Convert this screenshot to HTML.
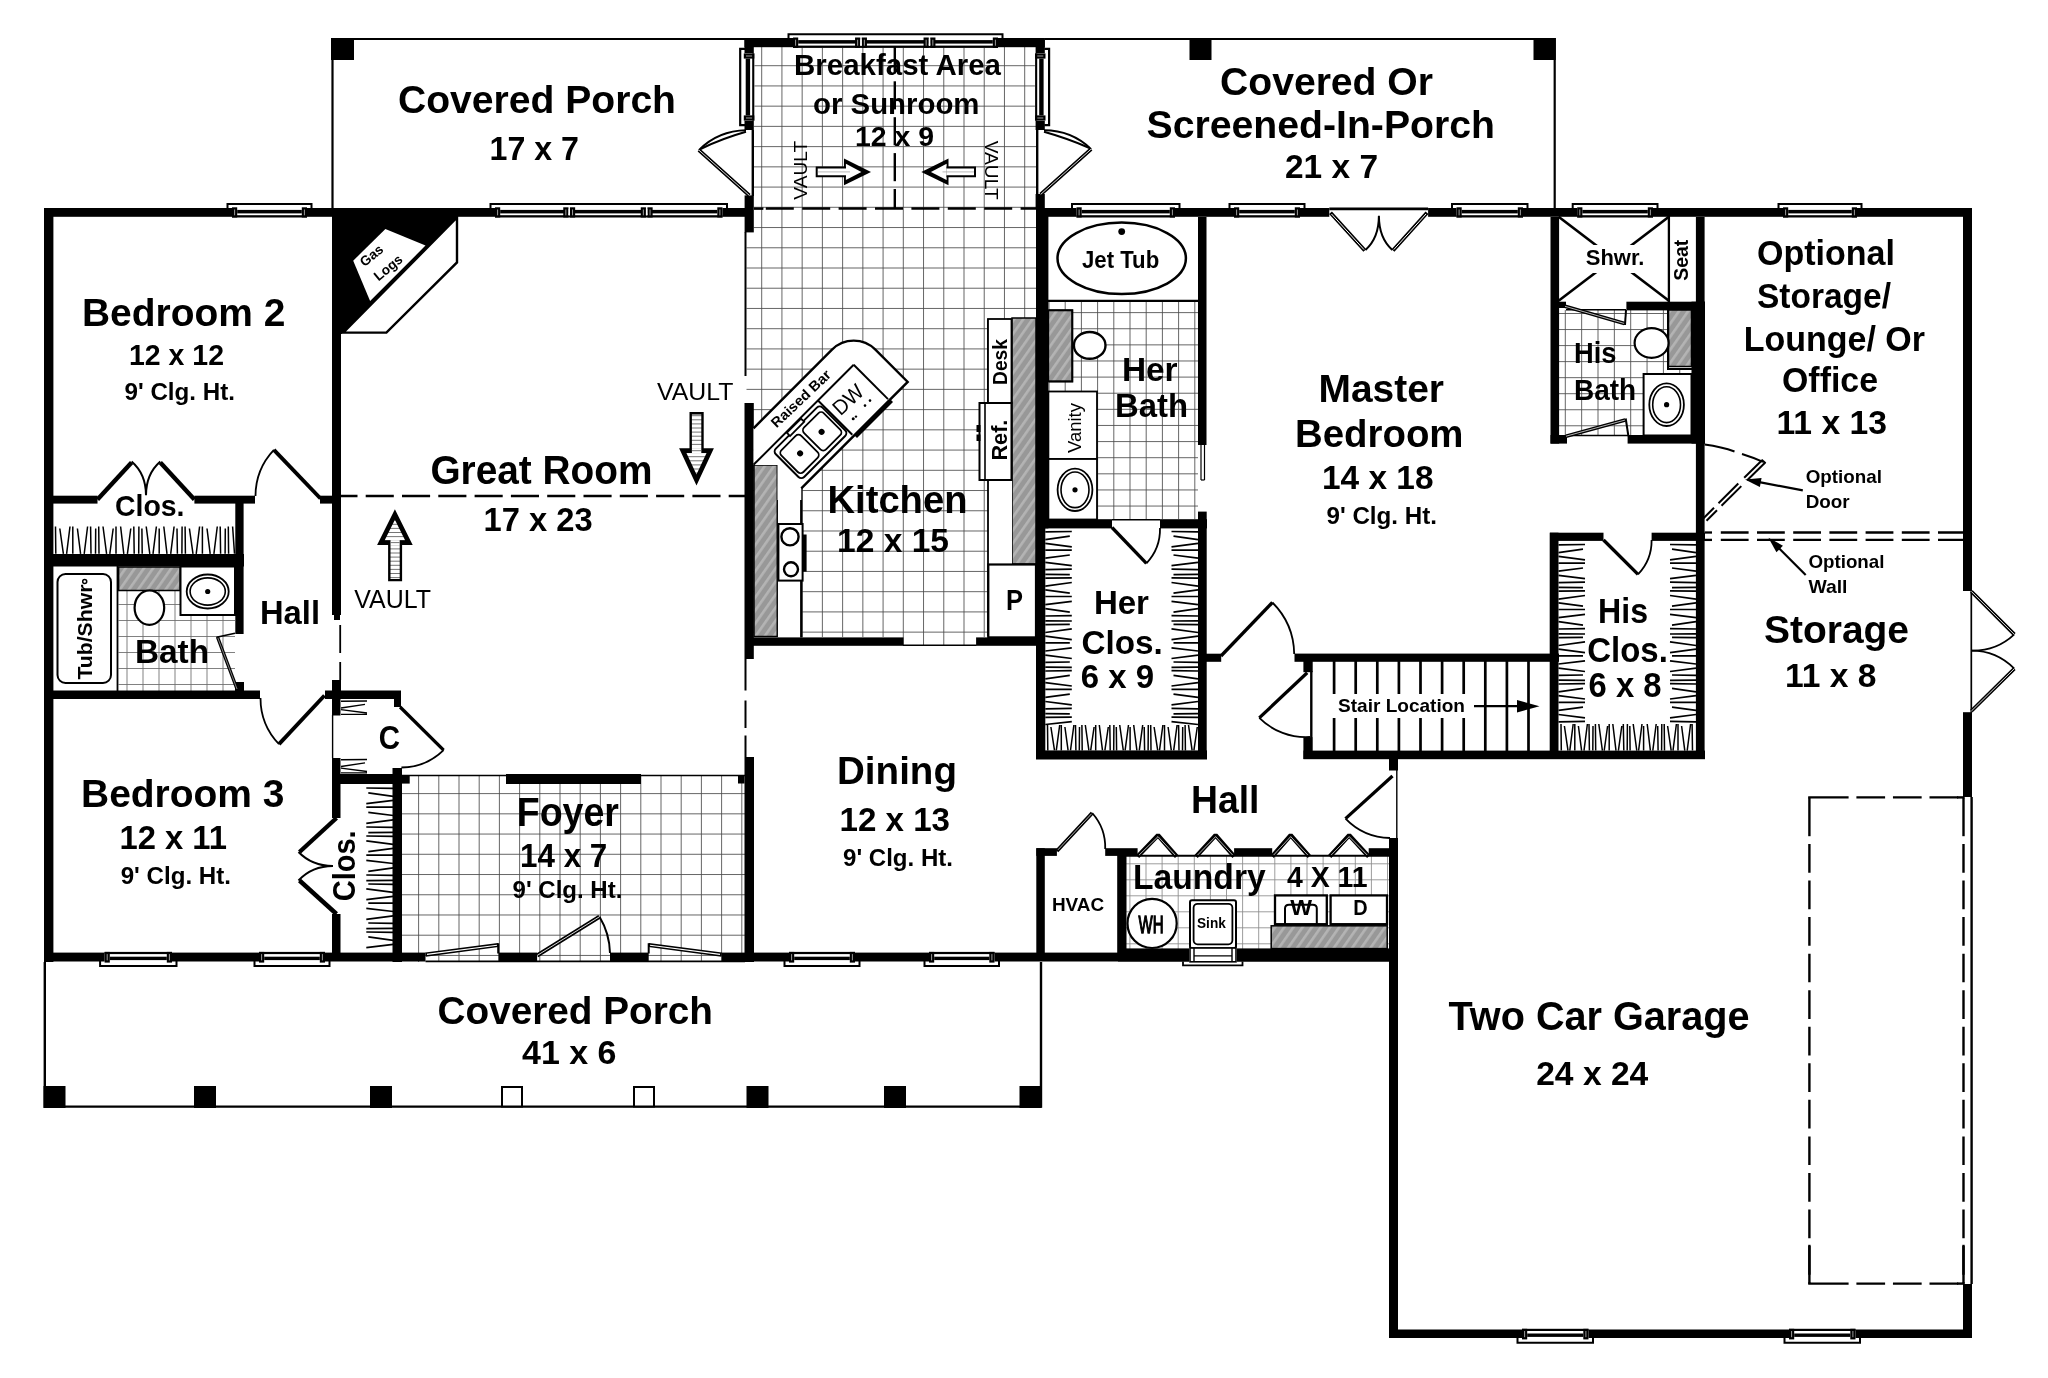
<!DOCTYPE html>
<html><head><meta charset="utf-8"><title>Floor Plan</title>
<style>
html,body{margin:0;padding:0;background:#fff;overflow:hidden;}
svg{display:block;will-change:transform;}
text{font-family:"Liberation Sans",sans-serif;fill:#000;}
</style></head>
<body>
<svg width="2048" height="1378" viewBox="0 0 2048 1378">
<defs>
<pattern id="hatch" width="7.5" height="7.5" patternUnits="userSpaceOnUse" patternTransform="rotate(35)">
<rect width="7.5" height="7.5" fill="#989898"/><rect width="2.6" height="7.5" fill="#b4b4b4"/>
</pattern>
</defs>
<rect width="2048" height="1378" fill="#fff"/>
<path d="M761.70 47.00V232.00M781.93 47.00V232.00M802.16 47.00V232.00M822.39 47.00V232.00M842.62 47.00V232.00M862.85 47.00V232.00M883.08 47.00V232.00M903.31 47.00V232.00M923.54 47.00V232.00M943.77 47.00V232.00M964.00 47.00V232.00M984.23 47.00V232.00M1004.46 47.00V232.00M1024.69 47.00V232.00M753.80 65.70H1036.00M753.80 85.93H1036.00M753.80 106.16H1036.00M753.80 126.39H1036.00M753.80 146.62H1036.00M753.80 166.85H1036.00M753.80 187.08H1036.00M753.80 207.31H1036.00M753.80 227.54H1036.00" fill="none" stroke="#4a4a4a" stroke-width="0.85"/>
<path d="M761.70 232.00V637.00M781.93 232.00V637.00M802.16 232.00V637.00M822.39 232.00V637.00M842.62 232.00V637.00M862.85 232.00V637.00M883.08 232.00V637.00M903.31 232.00V637.00M923.54 232.00V637.00M943.77 232.00V637.00M964.00 232.00V637.00M984.23 232.00V637.00M1004.46 232.00V637.00M1024.69 232.00V637.00M746.50 247.77H1036.00M746.50 268.00H1036.00M746.50 288.23H1036.00M746.50 308.46H1036.00M746.50 328.69H1036.00M746.50 348.92H1036.00M746.50 369.15H1036.00M746.50 389.38H1036.00M746.50 409.61H1036.00M746.50 429.84H1036.00M746.50 450.07H1036.00M746.50 470.30H1036.00M746.50 490.53H1036.00M746.50 510.76H1036.00M746.50 530.99H1036.00M746.50 551.22H1036.00M746.50 571.45H1036.00M746.50 591.68H1036.00M746.50 611.91H1036.00M746.50 632.14H1036.00" fill="none" stroke="#4a4a4a" stroke-width="0.85"/>
<path d="M903.31 637.00V646.00M923.54 637.00V646.00M943.77 637.00V646.00M964.00 637.00V646.00" fill="none" stroke="#4a4a4a" stroke-width="0.85"/>
<line x1="903.00" y1="645.30" x2="976.50" y2="645.30" stroke="#000" stroke-width="1.6" />
<path d="M418.60 775.00V962.00M438.80 775.00V962.00M459.00 775.00V962.00M479.20 775.00V962.00M499.40 775.00V962.00M519.60 775.00V962.00M539.80 775.00V962.00M560.00 775.00V962.00M580.20 775.00V962.00M600.40 775.00V962.00M620.60 775.00V962.00M640.80 775.00V962.00M661.00 775.00V962.00M681.20 775.00V962.00M701.40 775.00V962.00M721.60 775.00V962.00M741.80 775.00V962.00M402.00 793.60H745.00M402.00 813.83H745.00M402.00 834.06H745.00M402.00 854.29H745.00M402.00 874.52H745.00M402.00 894.75H745.00M402.00 914.98H745.00M402.00 935.21H745.00M402.00 955.44H745.00" fill="none" stroke="#4a4a4a" stroke-width="0.85"/>
<path d="M127.00 590.00V691.00M143.00 590.00V691.00M159.00 590.00V691.00M175.00 590.00V691.00M191.00 590.00V691.00M207.00 590.00V691.00M223.00 590.00V691.00M118.50 604.50H235.00M118.50 620.50H235.00M118.50 636.50H235.00M118.50 652.50H235.00M118.50 668.50H235.00M118.50 684.50H235.00" fill="none" stroke="#6a6a6a" stroke-width="0.85"/>
<path d="M1049.00 302.00V519.00M1065.20 302.00V519.00M1081.40 302.00V519.00M1097.60 302.00V519.00M1113.80 302.00V519.00M1130.00 302.00V519.00M1146.20 302.00V519.00M1162.40 302.00V519.00M1178.60 302.00V519.00M1194.80 302.00V519.00M1049.00 312.62H1198.00M1049.00 328.74H1198.00M1049.00 344.86H1198.00M1049.00 360.98H1198.00M1049.00 377.10H1198.00M1049.00 393.22H1198.00M1049.00 409.34H1198.00M1049.00 425.46H1198.00M1049.00 441.58H1198.00M1049.00 457.70H1198.00M1049.00 473.82H1198.00M1049.00 489.94H1198.00M1049.00 506.06H1198.00" fill="none" stroke="#4a4a4a" stroke-width="0.85"/>
<path d="M1565.30 310.00V435.50M1581.65 310.00V435.50M1598.00 310.00V435.50M1614.35 310.00V435.50M1630.70 310.00V435.50M1647.05 310.00V435.50M1663.40 310.00V435.50M1559.00 313.50H1668.50M1559.00 329.54H1668.50M1559.00 345.58H1668.50M1559.00 361.62H1668.50M1559.00 377.66H1668.50M1559.00 393.70H1668.50M1559.00 409.74H1668.50M1559.00 425.78H1668.50" fill="none" stroke="#4a4a4a" stroke-width="0.85"/>
<path d="M1679.75 369.00V374.00" fill="none" stroke="#4a4a4a" stroke-width="0.85"/>
<path d="M1129.90 856.00V949.00M1146.00 856.00V949.00M1162.10 856.00V949.00M1178.20 856.00V949.00M1194.30 856.00V949.00M1210.40 856.00V949.00M1226.50 856.00V949.00M1242.60 856.00V949.00M1258.70 856.00V949.00M1274.80 856.00V949.00M1290.90 856.00V949.00M1307.00 856.00V949.00M1323.10 856.00V949.00M1339.20 856.00V949.00M1355.30 856.00V949.00M1371.40 856.00V949.00M1387.50 856.00V949.00M1126.00 863.80H1389.00M1126.00 879.80H1389.00M1126.00 895.80H1389.00M1126.00 911.80H1389.00M1126.00 927.80H1389.00M1126.00 943.80H1389.00" fill="none" stroke="#8a8a8a" stroke-width="0.85"/>
<polyline points="332.50,208.00 332.50,39.00 745.00,39.00" fill="none" stroke="#000" stroke-width="2.2" />
<rect x="331.00" y="38.00" width="23.00" height="22.00" fill="#000" />
<polyline points="1045.00,39.00 1554.70,39.00 1554.70,208.00" fill="none" stroke="#000" stroke-width="2.2" />
<rect x="1189.50" y="38.00" width="22.00" height="22.00" fill="#000" />
<rect x="1533.50" y="38.00" width="22.30" height="22.00" fill="#000" />
<polyline points="44.80,962.00 44.80,1106.60 1041.00,1106.60 1041.00,962.00" fill="none" stroke="#000" stroke-width="2.4" />
<rect x="43.50" y="1086.00" width="22.00" height="22.00" fill="#000" />
<rect x="194.00" y="1086.00" width="22.00" height="22.00" fill="#000" />
<rect x="370.00" y="1086.00" width="22.00" height="22.00" fill="#000" />
<rect x="746.50" y="1086.00" width="22.00" height="22.00" fill="#000" />
<rect x="884.00" y="1086.00" width="22.00" height="22.00" fill="#000" />
<rect x="1019.50" y="1086.00" width="22.00" height="22.00" fill="#000" />
<rect x="502.00" y="1087.00" width="20.00" height="19.50" fill="#fff" stroke="#000" stroke-width="2"/>
<rect x="634.00" y="1087.00" width="20.00" height="19.50" fill="#fff" stroke="#000" stroke-width="2"/>
<rect x="44.00" y="208.00" width="9.40" height="754.00" fill="#000" />
<rect x="44.00" y="208.00" width="701.00" height="8.80" fill="#000" />
<rect x="332.00" y="208.00" width="9.00" height="407.00" fill="#000" />
<rect x="332.00" y="680.00" width="9.00" height="19.00" fill="#000" />
<rect x="53.00" y="495.70" width="44.50" height="7.90" fill="#000" />
<rect x="194.40" y="495.70" width="60.60" height="7.90" fill="#000" />
<rect x="320.00" y="495.70" width="12.00" height="7.90" fill="#000" />
<rect x="235.30" y="497.00" width="8.30" height="137.00" fill="#000" />
<rect x="53.00" y="554.00" width="191.00" height="12.50" fill="#000" />
<rect x="235.00" y="682.00" width="9.00" height="9.00" fill="#000" />
<rect x="44.50" y="690.50" width="215.50" height="8.50" fill="#000" />
<rect x="325.00" y="690.50" width="76.00" height="8.50" fill="#000" />
<rect x="394.00" y="699.00" width="7.00" height="8.00" fill="#000" />
<rect x="394.00" y="768.00" width="7.00" height="7.00" fill="#000" />
<rect x="332.00" y="774.00" width="70.00" height="10.00" fill="#000" />
<rect x="392.50" y="768.00" width="9.50" height="194.00" fill="#000" />
<rect x="402.00" y="775.00" width="7.70" height="8.60" fill="#000" />
<rect x="506.00" y="774.00" width="135.00" height="10.00" fill="#000" />
<rect x="738.00" y="775.00" width="6.50" height="8.50" fill="#000" />
<rect x="332.00" y="699.00" width="8.50" height="16.50" fill="#000" />
<rect x="332.00" y="758.00" width="8.50" height="17.00" fill="#000" />
<rect x="332.00" y="784.00" width="8.50" height="34.00" fill="#000" />
<rect x="332.00" y="914.00" width="8.50" height="40.00" fill="#000" />
<rect x="44.00" y="952.60" width="381.50" height="8.90" fill="#000" />
<rect x="498.40" y="952.60" width="38.70" height="8.90" fill="#000" />
<rect x="610.00" y="952.60" width="38.70" height="8.90" fill="#000" />
<rect x="721.70" y="952.60" width="676.30" height="8.90" fill="#000" />
<rect x="744.50" y="403.00" width="9.30" height="256.00" fill="#000" />
<rect x="744.60" y="195.40" width="9.20" height="37.00" fill="#000" />
<rect x="744.50" y="38.00" width="9.30" height="15.40" fill="#000" />
<rect x="744.50" y="120.60" width="9.30" height="9.40" fill="#000" />
<rect x="744.50" y="38.00" width="300.30" height="9.20" fill="#000" />
<rect x="1035.60" y="38.00" width="9.20" height="15.40" fill="#000" />
<rect x="1035.60" y="120.60" width="9.20" height="9.40" fill="#000" />
<rect x="1035.60" y="194.00" width="9.20" height="15.00" fill="#000" />
<rect x="1036.00" y="209.00" width="12.40" height="319.40" fill="#000" />
<rect x="1036.00" y="519.00" width="9.30" height="240.00" fill="#000" />
<rect x="744.50" y="757.00" width="9.50" height="205.00" fill="#000" />
<rect x="753.00" y="637.40" width="150.50" height="8.40" fill="#000" />
<rect x="976.10" y="637.40" width="60.90" height="8.40" fill="#000" />
<rect x="1036.00" y="208.00" width="936.00" height="8.80" fill="#000" />
<rect x="1198.00" y="217.00" width="8.50" height="228.00" fill="#000" />
<rect x="1198.00" y="511.60" width="8.70" height="247.40" fill="#000" />
<rect x="1036.00" y="519.20" width="76.00" height="9.20" fill="#000" />
<rect x="1160.00" y="519.20" width="47.00" height="9.20" fill="#000" />
<rect x="1036.00" y="750.40" width="171.00" height="9.10" fill="#000" />
<rect x="1206.00" y="653.70" width="15.20" height="8.10" fill="#000" />
<rect x="1294.50" y="653.60" width="264.50" height="8.20" fill="#000" />
<rect x="1303.40" y="654.00" width="9.30" height="18.20" fill="#000" />
<rect x="1303.40" y="737.50" width="9.30" height="21.50" fill="#000" />
<rect x="1303.50" y="750.60" width="401.50" height="8.60" fill="#000" />
<rect x="1549.70" y="532.70" width="8.80" height="226.30" fill="#000" />
<rect x="1550.00" y="532.70" width="53.50" height="8.20" fill="#000" />
<rect x="1651.60" y="532.70" width="53.40" height="8.20" fill="#000" />
<rect x="1695.90" y="217.00" width="8.70" height="542.00" fill="#000" />
<rect x="1550.50" y="217.00" width="8.60" height="226.60" fill="#000" />
<rect x="1550.50" y="435.00" width="16.50" height="8.60" fill="#000" />
<rect x="1627.60" y="435.00" width="77.40" height="8.60" fill="#000" />
<rect x="1691.50" y="301.70" width="13.50" height="141.90" fill="#000" />
<rect x="1626.40" y="301.70" width="78.60" height="8.70" fill="#000" />
<rect x="1559.00" y="301.70" width="7.00" height="6.30" fill="#000" />
<rect x="1963.00" y="208.00" width="9.00" height="383.00" fill="#000" />
<rect x="1963.00" y="712.20" width="9.00" height="84.80" fill="#000" />
<rect x="1963.00" y="1284.00" width="9.00" height="54.00" fill="#000" />
<rect x="1389.00" y="1329.50" width="583.00" height="8.50" fill="#000" />
<rect x="1389.00" y="759.00" width="9.00" height="11.50" fill="#000" />
<rect x="1389.00" y="838.00" width="9.00" height="500.00" fill="#000" />
<rect x="1105.20" y="848.20" width="32.40" height="7.70" fill="#000" />
<rect x="1234.10" y="848.20" width="38.10" height="7.70" fill="#000" />
<rect x="1368.70" y="848.20" width="20.30" height="7.70" fill="#000" />
<rect x="1036.30" y="848.20" width="8.50" height="105.80" fill="#000" />
<rect x="1036.30" y="848.20" width="20.60" height="7.70" fill="#000" />
<rect x="1117.20" y="855.00" width="9.30" height="99.00" fill="#000" />
<rect x="232.00" y="206.50" width="75.00" height="11.00" fill="#fff" />
<polyline points="227.50,208.50 227.50,204.00 311.50,204.00 311.50,208.50" fill="none" stroke="#000" stroke-width="2.0" />
<rect x="237.20" y="209.90" width="64.60" height="3.50" fill="#000" />
<rect x="232.00" y="215.20" width="75.00" height="2.30" fill="#000" />
<rect x="232.00" y="207.30" width="5.20" height="10.20" fill="#000" />
<line x1="234.60" y1="209.50" x2="234.60" y2="215.30" stroke="#ddd" stroke-width="0.7" />
<rect x="301.80" y="207.30" width="5.20" height="10.20" fill="#000" />
<line x1="304.40" y1="209.50" x2="304.40" y2="215.30" stroke="#ddd" stroke-width="0.7" />
<rect x="495.00" y="206.50" width="227.50" height="11.00" fill="#fff" />
<polyline points="490.50,208.50 490.50,204.00 727.00,204.00 727.00,208.50" fill="none" stroke="#000" stroke-width="2.0" />
<rect x="500.20" y="209.90" width="217.10" height="3.50" fill="#000" />
<rect x="495.00" y="215.20" width="227.50" height="2.30" fill="#000" />
<rect x="495.00" y="207.30" width="5.20" height="10.20" fill="#000" />
<line x1="497.60" y1="209.50" x2="497.60" y2="215.30" stroke="#ddd" stroke-width="0.7" />
<rect x="717.30" y="207.30" width="5.20" height="10.20" fill="#000" />
<line x1="719.90" y1="209.50" x2="719.90" y2="215.30" stroke="#ddd" stroke-width="0.7" />
<rect x="568.40" y="209.50" width="1.60" height="5.70" fill="#fff" />
<rect x="563.25" y="207.30" width="5.20" height="10.20" fill="#000" />
<line x1="565.85" y1="209.50" x2="565.85" y2="215.30" stroke="#ddd" stroke-width="0.7" />
<rect x="569.95" y="207.30" width="5.20" height="10.20" fill="#000" />
<line x1="572.55" y1="209.50" x2="572.55" y2="215.30" stroke="#ddd" stroke-width="0.7" />
<rect x="568.40" y="209.30" width="1.60" height="5.90" fill="#fff" />
<rect x="645.90" y="209.50" width="1.60" height="5.70" fill="#fff" />
<rect x="640.75" y="207.30" width="5.20" height="10.20" fill="#000" />
<line x1="643.35" y1="209.50" x2="643.35" y2="215.30" stroke="#ddd" stroke-width="0.7" />
<rect x="647.45" y="207.30" width="5.20" height="10.20" fill="#000" />
<line x1="650.05" y1="209.50" x2="650.05" y2="215.30" stroke="#ddd" stroke-width="0.7" />
<rect x="645.90" y="209.30" width="1.60" height="5.90" fill="#fff" />
<rect x="793.00" y="36.70" width="205.00" height="11.20" fill="#fff" />
<polyline points="788.50,38.70 788.50,34.20 1002.50,34.20 1002.50,38.70" fill="none" stroke="#000" stroke-width="2.0" />
<rect x="798.20" y="40.10" width="194.60" height="3.50" fill="#000" />
<rect x="793.00" y="45.60" width="205.00" height="2.30" fill="#000" />
<rect x="793.00" y="37.50" width="5.20" height="10.40" fill="#000" />
<line x1="795.60" y1="39.70" x2="795.60" y2="45.70" stroke="#ddd" stroke-width="0.7" />
<rect x="992.80" y="37.50" width="5.20" height="10.40" fill="#000" />
<line x1="995.40" y1="39.70" x2="995.40" y2="45.70" stroke="#ddd" stroke-width="0.7" />
<rect x="860.20" y="39.70" width="1.60" height="5.90" fill="#fff" />
<rect x="855.05" y="37.50" width="5.20" height="10.40" fill="#000" />
<line x1="857.65" y1="39.70" x2="857.65" y2="45.70" stroke="#ddd" stroke-width="0.7" />
<rect x="861.75" y="37.50" width="5.20" height="10.40" fill="#000" />
<line x1="864.35" y1="39.70" x2="864.35" y2="45.70" stroke="#ddd" stroke-width="0.7" />
<rect x="860.20" y="39.50" width="1.60" height="6.10" fill="#fff" />
<rect x="928.70" y="39.70" width="1.60" height="5.90" fill="#fff" />
<rect x="923.55" y="37.50" width="5.20" height="10.40" fill="#000" />
<line x1="926.15" y1="39.70" x2="926.15" y2="45.70" stroke="#ddd" stroke-width="0.7" />
<rect x="930.25" y="37.50" width="5.20" height="10.40" fill="#000" />
<line x1="932.85" y1="39.70" x2="932.85" y2="45.70" stroke="#ddd" stroke-width="0.7" />
<rect x="928.70" y="39.50" width="1.60" height="6.10" fill="#fff" />
<rect x="743.00" y="53.40" width="11.50" height="67.20" fill="#fff" />
<polyline points="745.00,48.90 740.20,48.90 740.20,125.10 745.00,125.10" fill="none" stroke="#000" stroke-width="2.2" />
<rect x="745.70" y="58.60" width="4.40" height="56.80" fill="#000" />
<rect x="752.20" y="53.40" width="2.10" height="67.20" fill="#000" />
<rect x="743.80" y="53.40" width="10.50" height="5.20" fill="#000" />
<line x1="746.00" y1="56.00" x2="752.10" y2="56.00" stroke="#ddd" stroke-width="0.7" />
<rect x="743.80" y="115.40" width="10.50" height="5.20" fill="#000" />
<line x1="746.00" y1="118.00" x2="752.10" y2="118.00" stroke="#ddd" stroke-width="0.7" />
<rect x="1034.90" y="53.40" width="11.40" height="67.20" fill="#fff" />
<polyline points="1044.30,48.90 1049.10,48.90 1049.10,125.10 1044.30,125.10" fill="none" stroke="#000" stroke-width="2.2" />
<rect x="1039.20" y="58.60" width="4.40" height="56.80" fill="#000" />
<rect x="1035.10" y="53.40" width="2.10" height="67.20" fill="#000" />
<rect x="1035.10" y="53.40" width="10.40" height="5.20" fill="#000" />
<line x1="1037.30" y1="56.00" x2="1043.30" y2="56.00" stroke="#ddd" stroke-width="0.7" />
<rect x="1035.10" y="115.40" width="10.40" height="5.20" fill="#000" />
<line x1="1037.30" y1="118.00" x2="1043.30" y2="118.00" stroke="#ddd" stroke-width="0.7" />
<rect x="1076.50" y="206.50" width="98.50" height="11.00" fill="#fff" />
<polyline points="1072.00,208.50 1072.00,204.00 1179.50,204.00 1179.50,208.50" fill="none" stroke="#000" stroke-width="2.0" />
<rect x="1081.70" y="209.90" width="88.10" height="3.50" fill="#000" />
<rect x="1076.50" y="215.20" width="98.50" height="2.30" fill="#000" />
<rect x="1076.50" y="207.30" width="5.20" height="10.20" fill="#000" />
<line x1="1079.10" y1="209.50" x2="1079.10" y2="215.30" stroke="#ddd" stroke-width="0.7" />
<rect x="1169.80" y="207.30" width="5.20" height="10.20" fill="#000" />
<line x1="1172.40" y1="209.50" x2="1172.40" y2="215.30" stroke="#ddd" stroke-width="0.7" />
<rect x="1234.00" y="206.50" width="66.00" height="11.00" fill="#fff" />
<polyline points="1229.50,208.50 1229.50,204.00 1304.50,204.00 1304.50,208.50" fill="none" stroke="#000" stroke-width="2.0" />
<rect x="1239.20" y="209.90" width="55.60" height="3.50" fill="#000" />
<rect x="1234.00" y="215.20" width="66.00" height="2.30" fill="#000" />
<rect x="1234.00" y="207.30" width="5.20" height="10.20" fill="#000" />
<line x1="1236.60" y1="209.50" x2="1236.60" y2="215.30" stroke="#ddd" stroke-width="0.7" />
<rect x="1294.80" y="207.30" width="5.20" height="10.20" fill="#000" />
<line x1="1297.40" y1="209.50" x2="1297.40" y2="215.30" stroke="#ddd" stroke-width="0.7" />
<rect x="1456.50" y="206.50" width="66.50" height="11.00" fill="#fff" />
<polyline points="1452.00,208.50 1452.00,204.00 1527.50,204.00 1527.50,208.50" fill="none" stroke="#000" stroke-width="2.0" />
<rect x="1461.70" y="209.90" width="56.10" height="3.50" fill="#000" />
<rect x="1456.50" y="215.20" width="66.50" height="2.30" fill="#000" />
<rect x="1456.50" y="207.30" width="5.20" height="10.20" fill="#000" />
<line x1="1459.10" y1="209.50" x2="1459.10" y2="215.30" stroke="#ddd" stroke-width="0.7" />
<rect x="1517.80" y="207.30" width="5.20" height="10.20" fill="#000" />
<line x1="1520.40" y1="209.50" x2="1520.40" y2="215.30" stroke="#ddd" stroke-width="0.7" />
<rect x="1577.20" y="206.50" width="75.80" height="11.00" fill="#fff" />
<polyline points="1572.70,208.50 1572.70,204.00 1657.50,204.00 1657.50,208.50" fill="none" stroke="#000" stroke-width="2.0" />
<rect x="1582.40" y="209.90" width="65.40" height="3.50" fill="#000" />
<rect x="1577.20" y="215.20" width="75.80" height="2.30" fill="#000" />
<rect x="1577.20" y="207.30" width="5.20" height="10.20" fill="#000" />
<line x1="1579.80" y1="209.50" x2="1579.80" y2="215.30" stroke="#ddd" stroke-width="0.7" />
<rect x="1647.80" y="207.30" width="5.20" height="10.20" fill="#000" />
<line x1="1650.40" y1="209.50" x2="1650.40" y2="215.30" stroke="#ddd" stroke-width="0.7" />
<rect x="1783.00" y="206.50" width="74.00" height="11.00" fill="#fff" />
<polyline points="1778.50,208.50 1778.50,204.00 1861.50,204.00 1861.50,208.50" fill="none" stroke="#000" stroke-width="2.0" />
<rect x="1788.20" y="209.90" width="63.60" height="3.50" fill="#000" />
<rect x="1783.00" y="215.20" width="74.00" height="2.30" fill="#000" />
<rect x="1783.00" y="207.30" width="5.20" height="10.20" fill="#000" />
<line x1="1785.60" y1="209.50" x2="1785.60" y2="215.30" stroke="#ddd" stroke-width="0.7" />
<rect x="1851.80" y="207.30" width="5.20" height="10.20" fill="#000" />
<line x1="1854.40" y1="209.50" x2="1854.40" y2="215.30" stroke="#ddd" stroke-width="0.7" />
<rect x="104.60" y="951.90" width="67.40" height="10.80" fill="#fff" />
<polyline points="100.10,960.70 100.10,965.90 176.50,965.90 176.50,960.70" fill="none" stroke="#000" stroke-width="2.0" />
<rect x="109.80" y="956.70" width="57.00" height="3.40" fill="#000" />
<rect x="104.60" y="951.90" width="67.40" height="2.20" fill="#000" />
<rect x="104.60" y="951.90" width="5.20" height="10.70" fill="#000" />
<line x1="107.20" y1="954.10" x2="107.20" y2="960.40" stroke="#ddd" stroke-width="0.7" />
<rect x="166.80" y="951.90" width="5.20" height="10.70" fill="#000" />
<line x1="169.40" y1="954.10" x2="169.40" y2="960.40" stroke="#ddd" stroke-width="0.7" />
<rect x="259.00" y="951.90" width="66.00" height="10.80" fill="#fff" />
<polyline points="254.50,960.70 254.50,965.90 329.50,965.90 329.50,960.70" fill="none" stroke="#000" stroke-width="2.0" />
<rect x="264.20" y="956.70" width="55.60" height="3.40" fill="#000" />
<rect x="259.00" y="951.90" width="66.00" height="2.20" fill="#000" />
<rect x="259.00" y="951.90" width="5.20" height="10.70" fill="#000" />
<line x1="261.60" y1="954.10" x2="261.60" y2="960.40" stroke="#ddd" stroke-width="0.7" />
<rect x="319.80" y="951.90" width="5.20" height="10.70" fill="#000" />
<line x1="322.40" y1="954.10" x2="322.40" y2="960.40" stroke="#ddd" stroke-width="0.7" />
<rect x="789.00" y="951.90" width="66.00" height="10.80" fill="#fff" />
<polyline points="784.50,960.70 784.50,965.90 859.50,965.90 859.50,960.70" fill="none" stroke="#000" stroke-width="2.0" />
<rect x="794.20" y="956.70" width="55.60" height="3.40" fill="#000" />
<rect x="789.00" y="951.90" width="66.00" height="2.20" fill="#000" />
<rect x="789.00" y="951.90" width="5.20" height="10.70" fill="#000" />
<line x1="791.60" y1="954.10" x2="791.60" y2="960.40" stroke="#ddd" stroke-width="0.7" />
<rect x="849.80" y="951.90" width="5.20" height="10.70" fill="#000" />
<line x1="852.40" y1="954.10" x2="852.40" y2="960.40" stroke="#ddd" stroke-width="0.7" />
<rect x="929.00" y="951.90" width="65.50" height="10.80" fill="#fff" />
<polyline points="924.50,960.70 924.50,965.90 999.00,965.90 999.00,960.70" fill="none" stroke="#000" stroke-width="2.0" />
<rect x="934.20" y="956.70" width="55.10" height="3.40" fill="#000" />
<rect x="929.00" y="951.90" width="65.50" height="2.20" fill="#000" />
<rect x="929.00" y="951.90" width="5.20" height="10.70" fill="#000" />
<line x1="931.60" y1="954.10" x2="931.60" y2="960.40" stroke="#ddd" stroke-width="0.7" />
<rect x="989.30" y="951.90" width="5.20" height="10.70" fill="#000" />
<line x1="991.90" y1="954.10" x2="991.90" y2="960.40" stroke="#ddd" stroke-width="0.7" />
<rect x="1522.00" y="1328.80" width="66.50" height="10.70" fill="#fff" />
<polyline points="1517.50,1337.50 1517.50,1342.70 1593.00,1342.70 1593.00,1337.50" fill="none" stroke="#000" stroke-width="2.0" />
<rect x="1527.20" y="1333.50" width="56.10" height="3.40" fill="#000" />
<rect x="1522.00" y="1328.80" width="66.50" height="2.20" fill="#000" />
<rect x="1522.00" y="1328.80" width="5.20" height="10.60" fill="#000" />
<line x1="1524.60" y1="1331.00" x2="1524.60" y2="1337.20" stroke="#ddd" stroke-width="0.7" />
<rect x="1583.30" y="1328.80" width="5.20" height="10.60" fill="#000" />
<line x1="1585.90" y1="1331.00" x2="1585.90" y2="1337.20" stroke="#ddd" stroke-width="0.7" />
<rect x="1789.00" y="1328.80" width="66.50" height="10.70" fill="#fff" />
<polyline points="1784.50,1337.50 1784.50,1342.70 1860.00,1342.70 1860.00,1337.50" fill="none" stroke="#000" stroke-width="2.0" />
<rect x="1794.20" y="1333.50" width="56.10" height="3.40" fill="#000" />
<rect x="1789.00" y="1328.80" width="66.50" height="2.20" fill="#000" />
<rect x="1789.00" y="1328.80" width="5.20" height="10.60" fill="#000" />
<line x1="1791.60" y1="1331.00" x2="1791.60" y2="1337.20" stroke="#ddd" stroke-width="0.7" />
<rect x="1850.30" y="1328.80" width="5.20" height="10.60" fill="#000" />
<line x1="1852.90" y1="1331.00" x2="1852.90" y2="1337.20" stroke="#ddd" stroke-width="0.7" />
<polygon points="332.20,216.00 457.50,216.00 457.50,217.50 341.50,334.00 332.20,334.00" fill="#000" stroke="none" stroke-width="0" />
<polygon points="457.00,217.50 457.00,262.40 386.40,332.60 343.20,332.60" fill="#fff" stroke="#000" stroke-width="2.4" />
<polygon points="385.40,228.90 425.50,245.60 370.10,301.00 353.20,260.70" fill="#fff" stroke="none" stroke-width="0" />
<text font-size="13.6" font-weight="bold" transform="translate(364.6 267.2) rotate(-39.5)">Gas</text>
<text font-size="13.6" font-weight="bold" transform="translate(378.6 281.6) rotate(-39.5)">Logs</text>
<line x1="341.00" y1="496.00" x2="745.00" y2="496.00" stroke="#000" stroke-width="2.3" stroke-dasharray="28.1 8.2" stroke-dashoffset="11.6"/>
<line x1="340.20" y1="625.00" x2="340.20" y2="653.00" stroke="#000" stroke-width="1.8" />
<line x1="340.20" y1="662.00" x2="340.20" y2="680.00" stroke="#000" stroke-width="1.8" />
<rect x="334.00" y="615.00" width="6.00" height="5.00" fill="#000" />
<line x1="745.50" y1="232.00" x2="745.50" y2="376.00" stroke="#000" stroke-width="2.0" />
<line x1="745.50" y1="659.00" x2="745.50" y2="690.50" stroke="#000" stroke-width="2.0" />
<line x1="745.50" y1="700.50" x2="745.50" y2="728.00" stroke="#000" stroke-width="2.0" />
<line x1="745.50" y1="735.50" x2="745.50" y2="757.00" stroke="#000" stroke-width="2.0" />
<path d="M389.3 577.6H400.9M389.3 573.5H400.9M389.3 569.4H400.9M389.3 565.3H400.9M389.3 561.2H400.9M389.3 557.1H400.9M389.3 553.0H400.9M389.3 548.9H400.9M389.3 544.8H400.9M381.9 540.7H407.9M383.9 536.6H405.9M385.9 532.5H403.9M388.0 528.4H401.8M390.0 524.3H399.8M392.1 520.2H397.7" stroke="#666" stroke-width="0.9" fill="none"/>
<polyline points="389.30,542.65 389.30,580.10 400.90,580.10 400.90,542.65" fill="none" stroke="#000" stroke-width="2.4" />
<polygon points="380.89,542.65 408.91,542.65 394.90,514.48" fill="none" stroke="#000" stroke-width="4.7" stroke-linejoin="miter" stroke-miterlimit="10"/>
<line x1="390.50" y1="542.65" x2="399.70" y2="542.65" stroke="#fff" stroke-width="5.1000000000000005" />
<path d="M390.5 542.6H399.7" stroke="#666" stroke-width="0.9" fill="none"/>
<path d="M690.7 415.7H702.5M690.7 419.8H702.5M690.7 423.9H702.5M690.7 428.0H702.5M690.7 432.1H702.5M690.7 436.2H702.5M690.7 440.3H702.5M690.7 444.4H702.5M690.7 448.5H702.5M683.7 452.6H709.3M685.6 456.7H707.4M687.5 460.8H705.5M689.4 464.9H703.6M691.3 469.0H701.7M693.3 473.1H699.7" stroke="#666" stroke-width="0.9" fill="none"/>
<polyline points="690.70,450.65 690.70,413.20 702.50,413.20 702.50,450.65" fill="none" stroke="#000" stroke-width="2.4" />
<polygon points="682.79,450.65 710.21,450.65 696.50,480.04" fill="none" stroke="#000" stroke-width="4.7" stroke-linejoin="miter" stroke-miterlimit="10"/>
<line x1="691.90" y1="450.65" x2="701.30" y2="450.65" stroke="#fff" stroke-width="5.1000000000000005" />
<path d="M691.9 450.7H701.3" stroke="#666" stroke-width="0.9" fill="none"/>
<path d="M55.5 526.5L55.8 553.8M59.8 528.5L63.4 553.8M70.0 526.5L66.6 553.8M72.8 526.5L72.8 553.8M77.4 528.5L80.6 553.8M87.6 526.5L84.2 553.8M90.6 526.5L91.0 553.8M95.7 528.5L95.5 553.8M98.7 526.5L99.0 553.8M103.0 526.5L106.6 553.8M113.2 528.5L109.8 553.8M116.0 526.5L116.0 553.8M120.6 526.5L123.8 553.8M130.8 528.5L127.4 553.8M133.8 526.5L134.2 553.8M138.9 526.5L138.7 553.8M141.9 528.5L142.2 553.8M146.2 526.5L149.8 553.8M156.4 526.5L153.0 553.8M159.2 528.5L159.2 553.8M163.8 526.5L167.0 553.8M174.1 526.5L170.7 553.8M177.0 528.5L177.4 553.8M182.1 526.5L181.9 553.8M185.1 526.5L185.4 553.8M189.4 528.5L193.0 553.8M199.6 526.5L196.2 553.8M202.4 526.5L202.4 553.8M207.0 528.5L210.2 553.8M217.3 526.5L213.9 553.8M220.2 526.5L220.6 553.8M225.3 528.5L225.1 553.8M228.3 526.5L228.6 553.8M232.6 526.5L234.5 553.8" fill="none" stroke="#000" stroke-width="1.5"/>
<polyline points="97.50,499.50 131.60,462.60" fill="none" stroke="#000" stroke-width="4.4" />
<polyline points="194.40,499.50 160.30,462.60" fill="none" stroke="#000" stroke-width="4.4" />
<path d="M131.6 461.5 Q146 474 146 495.3 Q146 474 160.3 461.5" fill="none" stroke="#000" stroke-width="2.0" />
<path d="M273.90 449.80A67.40 67.40 0 0 0 255.50 496.00" fill="none" stroke="#000" stroke-width="1.8" />
<line x1="320.50" y1="498.50" x2="273.90" y2="449.80" stroke="#000" stroke-width="3.9" stroke-linecap="butt"/>
<path d="M279.00 744.20A66.65 66.65 0 0 1 260.50 698.00" fill="none" stroke="#000" stroke-width="1.8" />
<line x1="324.50" y1="695.50" x2="279.00" y2="744.20" stroke="#000" stroke-width="3.9" stroke-linecap="butt"/>
<line x1="117.50" y1="566.00" x2="117.50" y2="691.00" stroke="#000" stroke-width="1.8" />
<rect x="57.5" y="574" width="53.5" height="109" rx="8" ry="8" fill="#fff" stroke="#000" stroke-width="2"/>
<rect x="118.60" y="567.00" width="61.60" height="23.50" fill="url(#hatch)" stroke="#000" stroke-width="1.5"/>
<rect x="180.50" y="566.50" width="54.50" height="48.50" fill="#fff" stroke="#000" stroke-width="2"/>
<ellipse cx="207.7" cy="591.5" rx="21" ry="17" fill="#fff" stroke="#000" stroke-width="1.8"/>
<ellipse cx="207.7" cy="591.5" rx="17.6" ry="13.6" fill="#fff" stroke="#000" stroke-width="1.6"/>
<circle cx="207.7" cy="591.5" r="2.6" fill="#000"/>
<ellipse cx="149.4" cy="607.7" rx="14.8" ry="17.2" fill="#fff" stroke="#000" stroke-width="2.2"/>
<line x1="217.50" y1="637.00" x2="237.00" y2="689.00" stroke="#000" stroke-width="3.4" />
<line x1="217.50" y1="637.00" x2="237.00" y2="689.00" stroke="#fff" stroke-width="0.5" />
<line x1="216.50" y1="637.30" x2="235.00" y2="633.20" stroke="#000" stroke-width="1.6" />
<line x1="332.60" y1="715.00" x2="332.60" y2="758.00" stroke="#000" stroke-width="1.4" />
<path d="M341.0 701.3L367.0 701.0M341.0 708.0L365.0 704.4M341.0 709.6L367.0 713.0M341.0 714.4L367.0 714.4" fill="none" stroke="#000" stroke-width="1.4"/>
<path d="M341.0 759.8L367.0 759.5M341.0 766.5L365.0 762.9M341.0 768.1L367.0 771.5M341.0 772.9L367.0 772.9" fill="none" stroke="#000" stroke-width="1.4"/>
<path d="M443.60 750.10A61.24 61.24 0 0 1 401.40 767.50" fill="none" stroke="#000" stroke-width="1.8" />
<line x1="400.10" y1="707.00" x2="443.60" y2="750.10" stroke="#000" stroke-width="3.3" stroke-linecap="butt"/>
<path d="M366.3 788.0L393.2 788.3M368.3 792.8L393.2 796.4M366.3 803.7L393.2 800.3M366.3 807.2L393.2 807.2M368.3 812.3L393.2 815.5M366.3 823.3L393.2 819.9M366.3 827.0L393.2 827.4M368.3 832.6L393.2 832.4M366.3 836.0L393.2 836.3M366.3 840.8L393.2 844.4M368.3 851.7L393.2 848.3M366.3 855.2L393.2 855.2M366.3 860.3L393.2 863.5M368.3 871.3L393.2 867.9M366.3 875.0L393.2 875.4M366.3 880.6L393.2 880.4M368.3 884.0L393.2 884.3M366.3 888.8L393.2 892.4M366.3 899.7L393.2 896.3M368.3 903.2L393.2 903.2M366.3 908.3L393.2 911.5M366.3 919.3L393.2 915.9M368.3 923.0L393.2 923.4M366.3 928.6L393.2 928.4M366.3 932.0L393.2 932.3M368.3 936.8L393.2 940.4M366.3 947.7L393.2 944.3" fill="none" stroke="#000" stroke-width="1.7"/>
<polyline points="336.50,818.00 299.50,852.00" fill="none" stroke="#000" stroke-width="4.4" />
<polyline points="336.50,914.00 299.50,880.50" fill="none" stroke="#000" stroke-width="4.4" />
<path d="M298.5 852 Q312 866 333 866 Q312 866 298.5 880.5" fill="none" stroke="#000" stroke-width="2.0" />
<line x1="402.00" y1="775.50" x2="745.00" y2="775.50" stroke="#000" stroke-width="1.6" />
<line x1="425.50" y1="961.30" x2="745.00" y2="961.30" stroke="#000" stroke-width="1.8" />
<line x1="425.50" y1="954.60" x2="498.20" y2="945.00" stroke="#000" stroke-width="4.2" />
<line x1="427.00" y1="954.40" x2="497.00" y2="945.20" stroke="#fff" stroke-width="1.1" />
<line x1="498.20" y1="943.20" x2="498.20" y2="953.50" stroke="#000" stroke-width="2.0" />
<path d="M599.50 916.70A73.48 73.48 0 0 1 610.00 953.00" fill="none" stroke="#000" stroke-width="2.0" />
<line x1="537.10" y1="955.50" x2="599.50" y2="916.70" stroke="#000" stroke-width="4.2" stroke-linecap="butt"/>
<line x1="537.10" y1="955.50" x2="599.50" y2="916.70" stroke="#fff" stroke-width="0.85" />
<line x1="648.70" y1="945.00" x2="721.70" y2="954.60" stroke="#000" stroke-width="4.2" />
<line x1="650.00" y1="945.20" x2="720.00" y2="954.40" stroke="#fff" stroke-width="1.1" />
<line x1="648.70" y1="943.20" x2="648.70" y2="953.50" stroke="#000" stroke-width="2.0" />
<line x1="754.00" y1="208.60" x2="763.40" y2="208.60" stroke="#000" stroke-width="2.5" />
<line x1="765.80" y1="208.60" x2="1036.00" y2="208.60" stroke="#000" stroke-width="2.5" stroke-dasharray="28 8.4"/>
<line x1="894.80" y1="189.00" x2="894.80" y2="208.70" stroke="#000" stroke-width="2.4" />
<line x1="894.80" y1="153.10" x2="894.80" y2="181.20" stroke="#000" stroke-width="2.4" />
<line x1="894.80" y1="117.20" x2="894.80" y2="145.30" stroke="#000" stroke-width="2.4" />
<line x1="894.80" y1="81.30" x2="894.80" y2="109.40" stroke="#000" stroke-width="2.4" />
<line x1="894.80" y1="47.00" x2="894.80" y2="73.50" stroke="#000" stroke-width="2.4" />
<path d="M698.90 150.10A67.77 67.77 0 0 1 746.00 130.30" fill="none" stroke="#000" stroke-width="2.0" />
<line x1="749.30" y1="195.40" x2="698.90" y2="150.10" stroke="#000" stroke-width="3.8" stroke-linecap="butt"/>
<line x1="749.30" y1="195.40" x2="698.90" y2="150.10" stroke="#fff" stroke-width="0.85" />
<path d="M700.5 149 Q722 138.6 746 131.8" fill="none" stroke="#000" stroke-width="2.0" />
<path d="M1091.10 149.10A67.77 67.77 0 0 0 1044.00 130.30" fill="none" stroke="#000" stroke-width="2.0" />
<line x1="1040.70" y1="194.40" x2="1091.10" y2="149.10" stroke="#000" stroke-width="3.8" stroke-linecap="butt"/>
<line x1="1040.70" y1="194.40" x2="1091.10" y2="149.10" stroke="#fff" stroke-width="0.85" />
<path d="M1089.5 148 Q1068 138.6 1044 131.8" fill="none" stroke="#000" stroke-width="2.0" />
<line x1="752.80" y1="130.00" x2="752.80" y2="196.00" stroke="#000" stroke-width="2.4" />
<line x1="1037.20" y1="130.00" x2="1037.20" y2="194.00" stroke="#000" stroke-width="2.4" />
<polygon points="844.00,158.45 844.00,185.35 871.00,171.90" fill="#000" stroke="none" stroke-width="0" />
<polygon points="845.90,163.85 845.90,179.95 861.40,171.90" fill="#fff" stroke="none" stroke-width="0" />
<polyline points="846.00,167.60 816.70,167.60 816.70,176.20 846.00,176.20" fill="#fff" stroke="#000" stroke-width="2.0" />
<line x1="817.70" y1="171.90" x2="850.00" y2="171.90" stroke="#999" stroke-width="0.7" />
<polygon points="948.50,158.45 948.50,185.35 921.30,171.90" fill="#000" stroke="none" stroke-width="0" />
<polygon points="946.60,163.85 946.60,179.95 930.90,171.90" fill="#fff" stroke="none" stroke-width="0" />
<polyline points="946.50,167.60 975.00,167.60 975.00,176.20 946.50,176.20" fill="#fff" stroke="#000" stroke-width="2.0" />
<line x1="974.00" y1="171.90" x2="942.50" y2="171.90" stroke="#999" stroke-width="0.7" />
<text x="806.70" y="199.70" font-size="19" font-weight="normal" textLength="59.0" lengthAdjust="spacingAndGlyphs" transform="rotate(-90 806.70 199.70)" >VAULT</text>
<text x="985.00" y="140.70" font-size="19" font-weight="normal" textLength="59.0" lengthAdjust="spacingAndGlyphs" transform="rotate(90 985.00 140.70)" >VAULT</text>
<rect x="754.00" y="465.00" width="23.50" height="171.50" fill="url(#hatch)" stroke="#000" stroke-width="1.5"/>
<polygon points="777.50,484.00 801.30,486.50 801.30,637.00 777.50,637.00" fill="#fff" stroke="none" stroke-width="0" />
<line x1="777.30" y1="465.00" x2="777.30" y2="637.00" stroke="#000" stroke-width="1.2" />
<line x1="801.30" y1="487.30" x2="801.30" y2="637.50" stroke="#000" stroke-width="2.4" />
<path d="M753.5 428.3 L832 349.6 A30.7 30.7 0 0 1 875.4 349.6 L907.7 381.9 L801.3 488.3 L801.3 500 L777.5 500 L777.5 465 L753.5 465 Z" fill="#fff" stroke="none" stroke-width="0" />
<path d="M753.5 428.3 L832 349.6 A30.7 30.7 0 0 1 875.4 349.6 L907.7 381.9 L801.3 488.3" fill="none" stroke="#000" stroke-width="2.4" />
<line x1="753.50" y1="464.80" x2="853.70" y2="364.80" stroke="#000" stroke-width="2.0" />
<polyline points="853.70,364.80 888.00,399.10" fill="none" stroke="#000" stroke-width="2.0" />
<polyline points="818.00,400.50 852.30,434.80" fill="none" stroke="#000" stroke-width="2.0" />
<line x1="891.50" y1="400.50" x2="855.50" y2="436.50" stroke="#000" stroke-width="4.2" />
<text x="0" y="0" font-size="21" transform="translate(840.5 416.5) rotate(-43)" textLength="34" lengthAdjust="spacingAndGlyphs">DW</text>
<circle cx="853.2" cy="418.8" r="1.5"/><circle cx="856" cy="416.6" r="1.2"/><circle cx="865" cy="405.6" r="1.3"/><circle cx="870" cy="400.6" r="1.3"/>
<text x="0" y="0" font-size="14.2" font-weight="bold" transform="translate(776.6 428.6) rotate(-43.6)" textLength="76.5" lengthAdjust="spacingAndGlyphs">Raised Bar</text>
<g transform="translate(810.5 442.3) rotate(-45)"><rect x="-33" y="-20" width="66" height="40" rx="4" fill="#fff" stroke="#000" stroke-width="2"/><rect x="-30" y="-15" width="28" height="31" rx="4" fill="#fff" stroke="#000" stroke-width="1.8"/><rect x="2" y="-15" width="28" height="31" rx="4" fill="#fff" stroke="#000" stroke-width="1.8"/><circle cx="-15.2" cy="0.5" r="3"/><circle cx="15.2" cy="0.5" r="3"/><rect x="-10" y="-23.5" width="20" height="4.6" fill="#fff" stroke="#000" stroke-width="1.8"/></g>
<rect x="778.40" y="524.00" width="24.20" height="56.60" fill="#fff" stroke="#000" stroke-width="2.0"/>
<circle cx="790" cy="536.8" r="8.6" fill="#fff" stroke="#000" stroke-width="2.4"/>
<circle cx="791" cy="569.3" r="7" fill="#fff" stroke="#000" stroke-width="2.4"/>
<rect x="802.80" y="534.50" width="3.80" height="37.10" fill="#000" />
<rect x="1012.00" y="318.00" width="24.00" height="246.00" fill="url(#hatch)" stroke="#000" stroke-width="1.5"/>
<rect x="988.00" y="319.00" width="24.00" height="246.00" fill="#fff" />
<line x1="988.00" y1="319.00" x2="988.00" y2="636.50" stroke="#000" stroke-width="1.8" />
<rect x="988.00" y="319.00" width="23.50" height="84.00" fill="#fff" stroke="#000" stroke-width="1.8"/>
<rect x="979.50" y="403.00" width="32.00" height="77.00" fill="#fff" stroke="#000" stroke-width="2.0"/>
<line x1="985.00" y1="403.00" x2="985.00" y2="480.00" stroke="#000" stroke-width="1.6" />
<rect x="976.50" y="425.00" width="4.00" height="7.00" fill="#000" />
<rect x="976.50" y="434.50" width="4.00" height="6.50" fill="#000" />
<rect x="988.30" y="564.50" width="47.70" height="72.90" fill="#fff" stroke="#000" stroke-width="2.2"/>
<text x="1007.00" y="385.00" font-size="19.5" font-weight="bold" textLength="46.0" lengthAdjust="spacingAndGlyphs" transform="rotate(-90 1007.00 385.00)" >Desk</text>
<text x="1007.50" y="460.60" font-size="22" font-weight="bold" textLength="41.0" lengthAdjust="spacingAndGlyphs" transform="rotate(-90 1007.50 460.60)" >Ref.</text>
<text x="1006.00" y="610.00" font-size="29" font-weight="bold" textLength="17.0" lengthAdjust="spacingAndGlyphs"  >P</text>
<line x1="1048.00" y1="300.90" x2="1198.00" y2="300.90" stroke="#000" stroke-width="2.4" />
<ellipse cx="1121.7" cy="258.3" rx="64.2" ry="35.7" fill="#fff" stroke="#000" stroke-width="2.5"/>
<circle cx="1121.7" cy="231.6" r="3.4" fill="#000"/>
<rect x="1048.40" y="310.30" width="23.90" height="71.10" fill="url(#hatch)" stroke="#000" stroke-width="1.5"/>
<polyline points="1048.40,310.30 1072.30,310.30 1072.30,381.40 1048.40,381.40" fill="none" stroke="#000" stroke-width="2.0" />
<ellipse cx="1089.7" cy="345.4" rx="15.8" ry="13.4" fill="#fff" stroke="#000" stroke-width="2.4"/>
<rect x="1048.40" y="391.50" width="48.60" height="67.50" fill="#fff" stroke="#000" stroke-width="1.8"/>
<rect x="1048.40" y="459.00" width="48.60" height="60.50" fill="#fff" stroke="#000" stroke-width="1.8"/>
<ellipse cx="1075" cy="489.8" rx="17.4" ry="21.2" fill="#fff" stroke="#000" stroke-width="1.8"/>
<ellipse cx="1075" cy="489.8" rx="13.999999999999998" ry="17.8" fill="#fff" stroke="#000" stroke-width="1.6"/>
<circle cx="1075" cy="489.8" r="2.6" fill="#000"/>
<text x="1080.50" y="453.00" font-size="18" font-weight="normal" textLength="50.0" lengthAdjust="spacingAndGlyphs" transform="rotate(-90 1080.50 453.00)" >Vanity</text>
<line x1="1201.00" y1="445.00" x2="1201.00" y2="480.00" stroke="#000" stroke-width="1.2" />
<line x1="1204.50" y1="445.00" x2="1204.50" y2="480.00" stroke="#000" stroke-width="1.2" />
<line x1="1201.00" y1="480.00" x2="1204.50" y2="480.00" stroke="#000" stroke-width="1.2" />
<line x1="1112.00" y1="519.80" x2="1160.00" y2="519.80" stroke="#000" stroke-width="1.4" />
<path d="M1146.40 563.30A49.65 49.65 0 0 0 1160.00 528.00" fill="none" stroke="#000" stroke-width="1.8" />
<line x1="1112.00" y1="527.50" x2="1146.40" y2="563.30" stroke="#000" stroke-width="3.3" stroke-linecap="butt"/>
<path d="M1045.3 531.8L1071.8 531.5M1045.3 539.7L1069.8 536.1M1045.3 543.4L1071.8 546.8M1045.3 550.1L1071.8 550.1M1045.3 558.2L1069.8 555.0M1045.3 562.3L1071.8 565.7M1045.3 569.6L1071.8 569.2M1045.3 574.4L1069.8 574.6M1045.3 578.2L1071.8 577.9M1045.3 586.1L1071.8 582.5M1045.3 589.8L1069.8 593.2M1045.3 596.5L1071.8 596.5M1045.3 604.6L1071.8 601.4M1045.3 608.7L1069.8 612.1M1045.3 616.0L1071.8 615.6M1045.3 620.8L1071.8 621.0M1045.3 624.6L1069.8 624.3M1045.3 632.5L1071.8 628.9M1045.3 636.2L1071.8 639.6M1045.3 642.9L1069.8 642.9M1045.3 651.0L1071.8 647.8M1045.3 655.1L1071.8 658.5M1045.3 662.4L1069.8 662.0M1045.3 667.2L1071.8 667.4M1045.3 671.0L1071.8 670.7M1045.3 678.9L1069.8 675.3M1045.3 682.6L1071.8 686.0M1045.3 689.3L1071.8 689.3M1045.3 697.4L1069.8 694.2M1045.3 701.5L1071.8 704.9M1045.3 708.8L1071.8 708.4M1045.3 713.6L1069.8 713.8M1045.3 717.4L1071.8 717.1M1045.3 724.5L1071.8 721.7" fill="none" stroke="#000" stroke-width="1.7"/>
<path d="M1171.5 531.5L1198.0 531.8M1173.5 536.1L1198.0 539.7M1171.5 546.8L1198.0 543.4M1171.5 550.1L1198.0 550.1M1173.5 555.0L1198.0 558.2M1171.5 565.7L1198.0 562.3M1171.5 569.2L1198.0 569.6M1173.5 574.6L1198.0 574.4M1171.5 577.9L1198.0 578.2M1171.5 582.5L1198.0 586.1M1173.5 593.2L1198.0 589.8M1171.5 596.5L1198.0 596.5M1171.5 601.4L1198.0 604.6M1173.5 612.1L1198.0 608.7M1171.5 615.6L1198.0 616.0M1171.5 621.0L1198.0 620.8M1173.5 624.3L1198.0 624.6M1171.5 628.9L1198.0 632.5M1171.5 639.6L1198.0 636.2M1173.5 642.9L1198.0 642.9M1171.5 647.8L1198.0 651.0M1171.5 658.5L1198.0 655.1M1173.5 662.0L1198.0 662.4M1171.5 667.4L1198.0 667.2M1171.5 670.7L1198.0 671.0M1173.5 675.3L1198.0 678.9M1171.5 686.0L1198.0 682.6M1171.5 689.3L1198.0 689.3M1173.5 694.2L1198.0 697.4M1171.5 704.9L1198.0 701.5M1171.5 708.4L1198.0 708.8M1173.5 713.8L1198.0 713.6M1171.5 717.1L1198.0 717.4M1171.5 721.7L1198.0 724.5" fill="none" stroke="#000" stroke-width="1.7"/>
<path d="M1047.5 725.0L1047.8 750.4M1050.9 727.0L1054.5 750.4M1059.7 725.0L1056.3 750.4M1061.3 725.0L1061.3 750.4M1064.9 727.0L1068.1 750.4M1073.9 725.0L1070.5 750.4M1075.5 725.0L1075.9 750.4M1079.5 727.0L1079.3 750.4M1081.9 725.0L1082.2 750.4M1085.3 725.0L1088.9 750.4M1094.1 727.0L1090.7 750.4M1095.7 725.0L1095.7 750.4M1099.3 725.0L1102.5 750.4M1108.3 727.0L1104.9 750.4M1109.8 725.0L1110.2 750.4M1113.9 725.0L1113.7 750.4M1116.3 727.0L1116.6 750.4M1119.7 725.0L1123.3 750.4M1128.5 725.0L1125.1 750.4M1130.1 727.0L1130.1 750.4M1133.7 725.0L1136.9 750.4M1142.7 725.0L1139.3 750.4M1144.2 727.0L1144.6 750.4M1148.3 725.0L1148.1 750.4M1150.7 725.0L1151.0 750.4M1154.1 727.0L1157.7 750.4M1162.9 725.0L1159.5 750.4M1164.5 725.0L1164.5 750.4M1168.1 727.0L1171.3 750.4M1177.1 725.0L1173.7 750.4M1178.6 725.0L1179.0 750.4M1182.7 727.0L1182.5 750.4M1185.1 725.0L1185.4 750.4M1188.5 725.0L1192.1 750.4M1197.3 727.0L1193.9 750.4" fill="none" stroke="#000" stroke-width="1.5"/>
<rect x="1329.30" y="207.50" width="98.80" height="10.00" fill="#fff" />
<line x1="1329.30" y1="208.90" x2="1428.10" y2="208.90" stroke="#000" stroke-width="2.6" />
<line x1="1330.50" y1="212.80" x2="1364.80" y2="250.50" stroke="#000" stroke-width="3.9" />
<line x1="1331.50" y1="214.00" x2="1364.00" y2="249.60" stroke="#fff" stroke-width="1.0" />
<line x1="1427.00" y1="212.80" x2="1393.00" y2="250.50" stroke="#000" stroke-width="3.9" />
<line x1="1426.00" y1="214.00" x2="1393.80" y2="249.60" stroke="#fff" stroke-width="1.0" />
<path d="M1365.5 250 Q1378.9 238 1378.9 215.8 Q1378.9 238 1392.3 250" fill="none" stroke="#000" stroke-width="2.0" />
<path d="M1272.40 602.50A74.19 74.19 0 0 1 1294.20 654.00" fill="none" stroke="#000" stroke-width="1.8" />
<line x1="1221.00" y1="656.00" x2="1272.40" y2="602.50" stroke="#000" stroke-width="3.3" stroke-linecap="butt"/>
<path d="M1334.1 661V751M1355.7 661V751M1377.3 661V751M1398.9 661V751M1420.5 661V751M1442.1 661V751M1463.7 661V751M1485.3 661V751M1506.9 661V751M1528.5 661V751" stroke="#000" stroke-width="2.7" fill="none"/>
<line x1="1311.30" y1="671.00" x2="1311.30" y2="738.00" stroke="#000" stroke-width="2.4" />
<path d="M1259.30 717.90A65.86 65.86 0 0 0 1310.00 737.00" fill="none" stroke="#000" stroke-width="1.8" />
<line x1="1307.20" y1="672.70" x2="1259.30" y2="717.90" stroke="#000" stroke-width="3.3" stroke-linecap="butt"/>
<rect x="1331.50" y="694.00" width="139.50" height="24.00" fill="#fff" />
<text x="1338.00" y="711.80" font-size="18.2" font-weight="bold" textLength="127.0" lengthAdjust="spacingAndGlyphs"  >Stair Location</text>
<line x1="1474.00" y1="706.20" x2="1520.00" y2="706.20" stroke="#000" stroke-width="2.2" />
<polygon points="1539.50,706.20 1517.00,700.00 1517.00,712.40" fill="#000" stroke="none" stroke-width="0" />
<line x1="1558.60" y1="216.80" x2="1668.90" y2="300.70" stroke="#000" stroke-width="2.6" />
<line x1="1668.90" y1="216.80" x2="1558.60" y2="300.70" stroke="#000" stroke-width="2.6" />
<rect x="1582.00" y="245.00" width="66.00" height="28.00" fill="#fff" />
<line x1="1668.90" y1="216.00" x2="1668.90" y2="302.00" stroke="#000" stroke-width="2.3" />
<rect x="1668.50" y="310.00" width="23.00" height="56.50" fill="url(#hatch)" stroke="#000" stroke-width="1.5"/>
<polyline points="1668.00,310.00 1668.00,369.00 1692.00,369.00" fill="none" stroke="#000" stroke-width="2.0" />
<ellipse cx="1651.6" cy="343" rx="17" ry="14.8" fill="#fff" stroke="#000" stroke-width="2.2"/>
<rect x="1643.60" y="374.00" width="47.90" height="61.50" fill="#fff" stroke="#000" stroke-width="2.0"/>
<ellipse cx="1666.6" cy="404.7" rx="17.3" ry="21.3" fill="#fff" stroke="#000" stroke-width="1.8"/>
<ellipse cx="1666.6" cy="404.7" rx="13.9" ry="17.900000000000002" fill="#fff" stroke="#000" stroke-width="1.6"/>
<circle cx="1666.6" cy="404.7" r="2.6" fill="#000"/>
<line x1="1566.00" y1="309.70" x2="1626.00" y2="309.70" stroke="#000" stroke-width="1.5" />
<line x1="1565.00" y1="306.30" x2="1624.50" y2="323.50" stroke="#000" stroke-width="3.6" />
<line x1="1565.00" y1="306.30" x2="1624.50" y2="323.50" stroke="#fff" stroke-width="0.7" />
<line x1="1625.00" y1="325.00" x2="1626.00" y2="310.00" stroke="#000" stroke-width="2.0" />
<line x1="1567.00" y1="435.60" x2="1628.00" y2="435.60" stroke="#000" stroke-width="1.5" />
<line x1="1566.00" y1="436.20" x2="1625.20" y2="420.00" stroke="#000" stroke-width="3.6" />
<line x1="1566.00" y1="436.20" x2="1625.20" y2="420.00" stroke="#fff" stroke-width="0.7" />
<line x1="1625.70" y1="418.50" x2="1628.40" y2="436.00" stroke="#000" stroke-width="2.0" />
<path d="M1638.00 574.40A48.72 48.72 0 0 0 1651.60 540.00" fill="none" stroke="#000" stroke-width="1.8" />
<line x1="1603.50" y1="540.00" x2="1638.00" y2="574.40" stroke="#000" stroke-width="3.3" stroke-linecap="butt"/>
<path d="M1558.5 544.8L1585.0 544.5M1558.5 552.7L1583.0 549.1M1558.5 556.4L1585.0 559.8M1558.5 563.1L1585.0 563.1M1558.5 571.2L1583.0 568.0M1558.5 575.3L1585.0 578.7M1558.5 582.6L1585.0 582.2M1558.5 587.4L1583.0 587.6M1558.5 591.2L1585.0 590.9M1558.5 599.1L1585.0 595.5M1558.5 602.8L1583.0 606.2M1558.5 609.5L1585.0 609.5M1558.5 617.6L1585.0 614.4M1558.5 621.7L1583.0 625.1M1558.5 629.0L1585.0 628.6M1558.5 633.8L1585.0 634.0M1558.5 637.6L1583.0 637.3M1558.5 645.5L1585.0 641.9M1558.5 649.2L1585.0 652.6M1558.5 655.9L1583.0 655.9M1558.5 664.0L1585.0 660.8M1558.5 668.1L1585.0 671.5M1558.5 675.4L1583.0 675.0M1558.5 680.2L1585.0 680.4M1558.5 684.0L1585.0 683.7M1558.5 691.9L1583.0 688.3M1558.5 695.6L1585.0 699.0M1558.5 702.3L1585.0 702.3M1558.5 710.4L1583.0 707.2M1558.5 714.5L1585.0 717.9M1558.5 721.8L1585.0 721.4" fill="none" stroke="#000" stroke-width="1.7"/>
<path d="M1670.0 544.5L1696.0 544.8M1672.0 549.1L1696.0 552.7M1670.0 559.8L1696.0 556.4M1670.0 563.1L1696.0 563.1M1672.0 568.0L1696.0 571.2M1670.0 578.7L1696.0 575.3M1670.0 582.2L1696.0 582.6M1672.0 587.6L1696.0 587.4M1670.0 590.9L1696.0 591.2M1670.0 595.5L1696.0 599.1M1672.0 606.2L1696.0 602.8M1670.0 609.5L1696.0 609.5M1670.0 614.4L1696.0 617.6M1672.0 625.1L1696.0 621.7M1670.0 628.6L1696.0 629.0M1670.0 634.0L1696.0 633.8M1672.0 637.3L1696.0 637.6M1670.0 641.9L1696.0 645.5M1670.0 652.6L1696.0 649.2M1672.0 655.9L1696.0 655.9M1670.0 660.8L1696.0 664.0M1670.0 671.5L1696.0 668.1M1672.0 675.0L1696.0 675.4M1670.0 680.4L1696.0 680.2M1670.0 683.7L1696.0 684.0M1672.0 688.3L1696.0 691.9M1670.0 699.0L1696.0 695.6M1670.0 702.3L1696.0 702.3M1672.0 707.2L1696.0 710.4M1670.0 717.9L1696.0 714.5M1670.0 721.4L1696.0 721.8" fill="none" stroke="#000" stroke-width="1.7"/>
<path d="M1561.0 724.0L1561.3 750.6M1564.4 726.0L1568.0 750.6M1573.2 724.0L1569.8 750.6M1574.8 724.0L1574.8 750.6M1578.4 726.0L1581.6 750.6M1587.4 724.0L1584.0 750.6M1589.0 724.0L1589.4 750.6M1593.0 726.0L1592.8 750.6M1595.4 724.0L1595.7 750.6M1598.8 724.0L1602.4 750.6M1607.6 726.0L1604.2 750.6M1609.2 724.0L1609.2 750.6M1612.8 724.0L1616.0 750.6M1621.8 726.0L1618.4 750.6M1623.3 724.0L1623.8 750.6M1627.4 724.0L1627.2 750.6M1629.8 726.0L1630.1 750.6M1633.2 724.0L1636.8 750.6M1642.0 724.0L1638.6 750.6M1643.6 726.0L1643.6 750.6M1647.2 724.0L1650.4 750.6M1656.2 724.0L1652.8 750.6M1657.7 726.0L1658.1 750.6M1661.8 724.0L1661.6 750.6M1664.2 724.0L1664.5 750.6M1667.6 726.0L1671.2 750.6M1676.4 724.0L1673.0 750.6M1678.0 724.0L1678.0 750.6M1681.6 726.0L1684.8 750.6M1690.6 724.0L1687.2 750.6M1692.1 724.0L1692.5 750.6" fill="none" stroke="#000" stroke-width="1.5"/>
<line x1="1704.60" y1="532.50" x2="1712.00" y2="532.50" stroke="#000" stroke-width="2.3" />
<line x1="1720.80" y1="532.50" x2="1963.50" y2="532.50" stroke="#000" stroke-width="2.3" stroke-dasharray="27.8 8.4"/>
<line x1="1704.60" y1="539.90" x2="1712.00" y2="539.90" stroke="#000" stroke-width="2.3" />
<line x1="1720.80" y1="539.90" x2="1963.50" y2="539.90" stroke="#000" stroke-width="2.3" stroke-dasharray="27.8 8.4"/>
<path d="M1704.6 444.6 Q1722 447 1734.5 451.5" fill="none" stroke="#000" stroke-width="2.0" />
<path d="M1742 454 Q1753 457.5 1763 461.8" fill="none" stroke="#000" stroke-width="2.0" />
<polyline points="1761.60,459.80 1765.60,463.20" fill="none" stroke="#000" stroke-width="2.0" />
<line x1="1762.00" y1="460.20" x2="1744.20" y2="477.70" stroke="#000" stroke-width="2.0" />
<line x1="1738.30" y1="483.50" x2="1718.50" y2="503.20" stroke="#000" stroke-width="2.0" />
<line x1="1714.00" y1="507.70" x2="1703.50" y2="518.20" stroke="#000" stroke-width="2.0" />
<line x1="1765.00" y1="462.80" x2="1747.20" y2="480.30" stroke="#000" stroke-width="2.0" />
<line x1="1741.30" y1="486.10" x2="1721.50" y2="505.80" stroke="#000" stroke-width="2.0" />
<line x1="1717.00" y1="510.30" x2="1706.50" y2="520.80" stroke="#000" stroke-width="2.0" />
<line x1="1802.80" y1="490.30" x2="1758.00" y2="481.90" stroke="#000" stroke-width="2.2" />
<polygon points="1745.00,479.50 1761.55,477.90 1759.85,486.90" fill="#000" stroke="none" stroke-width="0" />
<line x1="1805.70" y1="575.00" x2="1778.00" y2="547.30" stroke="#000" stroke-width="2.2" />
<polygon points="1768.40,537.70 1782.95,545.75 1776.45,552.25" fill="#000" stroke="none" stroke-width="0" />
<line x1="1971.30" y1="590.00" x2="1971.30" y2="713.00" stroke="#000" stroke-width="1.7" />
<path d="M2014.30 634.40A60.67 60.67 0 0 1 1971.40 650.70" fill="none" stroke="#000" stroke-width="1.8" />
<line x1="1971.40" y1="591.50" x2="2014.30" y2="634.40" stroke="#000" stroke-width="3.7" stroke-linecap="butt"/>
<line x1="1971.40" y1="591.50" x2="2014.30" y2="634.40" stroke="#fff" stroke-width="0.85" />
<path d="M2014.30 668.70A60.25 60.25 0 0 0 1971.40 650.70" fill="none" stroke="#000" stroke-width="1.8" />
<line x1="1971.40" y1="711.00" x2="2014.30" y2="668.70" stroke="#000" stroke-width="3.7" stroke-linecap="butt"/>
<line x1="1971.40" y1="711.00" x2="2014.30" y2="668.70" stroke="#fff" stroke-width="0.85" />
<line x1="1971.60" y1="797.00" x2="1971.60" y2="1284.00" stroke="#000" stroke-width="2.4" />
<line x1="1808.20" y1="797.40" x2="1848.60" y2="797.40" stroke="#000" stroke-width="2.4" />
<line x1="1856.40" y1="797.40" x2="1964.50" y2="797.40" stroke="#000" stroke-width="2.4" stroke-dasharray="28.7 7.85"/>
<line x1="1957.00" y1="797.40" x2="1964.50" y2="797.40" stroke="#000" stroke-width="2.4" />
<line x1="1808.20" y1="1283.60" x2="1848.60" y2="1283.60" stroke="#000" stroke-width="2.4" />
<line x1="1856.40" y1="1283.60" x2="1964.50" y2="1283.60" stroke="#000" stroke-width="2.4" stroke-dasharray="28.7 7.85"/>
<line x1="1957.00" y1="1283.60" x2="1964.50" y2="1283.60" stroke="#000" stroke-width="2.4" />
<line x1="1809.40" y1="797.40" x2="1809.40" y2="836.20" stroke="#000" stroke-width="2.4" />
<line x1="1809.40" y1="844.00" x2="1809.40" y2="1283.60" stroke="#000" stroke-width="2.4" stroke-dasharray="28.7 7.85"/>
<line x1="1809.40" y1="1244.80" x2="1809.40" y2="1283.60" stroke="#000" stroke-width="2.4" />
<line x1="1963.50" y1="797.40" x2="1963.50" y2="836.20" stroke="#000" stroke-width="2.4" />
<line x1="1963.50" y1="844.00" x2="1963.50" y2="1283.60" stroke="#000" stroke-width="2.4" stroke-dasharray="28.7 7.85"/>
<line x1="1963.50" y1="1244.80" x2="1963.50" y2="1283.60" stroke="#000" stroke-width="2.4" />
<line x1="1396.80" y1="770.00" x2="1396.80" y2="838.00" stroke="#000" stroke-width="1.4" />
<path d="M1345.50 818.60A63.43 63.43 0 0 0 1390.00 838.00" fill="none" stroke="#000" stroke-width="1.8" />
<line x1="1392.50" y1="776.00" x2="1345.50" y2="818.60" stroke="#000" stroke-width="3.3" stroke-linecap="butt"/>
<rect x="1118.00" y="948.40" width="280.00" height="13.10" fill="#000" />
<line x1="1126.00" y1="855.70" x2="1389.00" y2="855.70" stroke="#000" stroke-width="2.0" />
<polyline points="1137.60,856.50 1158.00,835.20 1176.60,856.50" fill="none" stroke="#000" stroke-width="4.4" stroke-linejoin="bevel"/>
<polyline points="1139.10,855.00 1158.00,836.60" fill="none" stroke="#fff" stroke-width="0.7" />
<polyline points="1158.00,836.60 1175.10,855.00" fill="none" stroke="#fff" stroke-width="0.7" />
<polyline points="1196.10,856.50 1215.60,835.20 1234.10,856.50" fill="none" stroke="#000" stroke-width="4.4" stroke-linejoin="bevel"/>
<polyline points="1197.60,855.00 1215.60,836.60" fill="none" stroke="#fff" stroke-width="0.7" />
<polyline points="1215.60,836.60 1232.60,855.00" fill="none" stroke="#fff" stroke-width="0.7" />
<polyline points="1272.20,856.50 1290.70,835.20 1309.30,856.50" fill="none" stroke="#000" stroke-width="4.4" stroke-linejoin="bevel"/>
<polyline points="1273.70,855.00 1290.70,836.60" fill="none" stroke="#fff" stroke-width="0.7" />
<polyline points="1290.70,836.60 1307.80,855.00" fill="none" stroke="#fff" stroke-width="0.7" />
<polyline points="1329.70,856.50 1349.20,835.20 1368.70,856.50" fill="none" stroke="#000" stroke-width="4.4" stroke-linejoin="bevel"/>
<polyline points="1331.20,855.00 1349.20,836.60" fill="none" stroke="#fff" stroke-width="0.7" />
<polyline points="1349.20,836.60 1367.20,855.00" fill="none" stroke="#fff" stroke-width="0.7" />
<path d="M1092.20 813.00A51.87 51.87 0 0 1 1105.20 849.00" fill="none" stroke="#000" stroke-width="1.8" />
<line x1="1056.90" y1="851.00" x2="1092.20" y2="813.00" stroke="#000" stroke-width="3.8" stroke-linecap="butt"/>
<line x1="1058.00" y1="849.80" x2="1091.50" y2="813.80" stroke="#fff" stroke-width="0.7" />
<circle cx="1152.1" cy="923.4" r="24.6" fill="#fff" stroke="#000" stroke-width="2.2"/>
<text x="1138.6" y="932.7" font-size="23" textLength="25" lengthAdjust="spacingAndGlyphs" stroke="#000" stroke-width="1.3">WH</text>
<rect x="1190" y="900.2" width="46" height="48" rx="2" fill="#fff" stroke="#000" stroke-width="2"/>
<rect x="1193.6" y="903.8" width="38.8" height="40.5" rx="4" fill="#fff" stroke="#000" stroke-width="1.8"/>
<rect x="1189.00" y="948.00" width="48.00" height="14.20" fill="#fff" />
<rect x="1190.00" y="948.00" width="46.00" height="13.80" fill="#fff" stroke="#000" stroke-width="1.6"/>
<line x1="1194.00" y1="948.00" x2="1194.00" y2="962.00" stroke="#000" stroke-width="1.4" />
<line x1="1232.00" y1="948.00" x2="1232.00" y2="962.00" stroke="#000" stroke-width="1.4" />
<line x1="1194.00" y1="955.90" x2="1232.00" y2="955.90" stroke="#000" stroke-width="1.4" />
<polyline points="1183.00,961.50 1183.00,965.40 1242.50,965.40 1242.50,961.50" fill="none" stroke="#000" stroke-width="1.8" />
<rect x="1275.00" y="895.40" width="51.80" height="28.80" fill="#fff" stroke="#000" stroke-width="2.3"/>
<rect x="1330.60" y="895.40" width="56.40" height="28.80" fill="#fff" stroke="#000" stroke-width="2.3"/>
<rect x="1271.20" y="925.80" width="116.00" height="22.80" fill="url(#hatch)" stroke="#000" stroke-width="1.5"/>
<path d="M1285 924 V908.5 Q1285 904.8 1289 904.8 H1312.8 Q1316.8 904.8 1316.8 908.5 V924" fill="none" stroke="#000" stroke-width="2.0" />
<text x="398.00" y="112.50" font-size="39.5" font-weight="bold" textLength="278.0" lengthAdjust="spacingAndGlyphs"  >Covered Porch</text>
<text x="489.50" y="159.50" font-size="33.4" font-weight="bold" textLength="89.5" lengthAdjust="spacingAndGlyphs"  >17 x 7</text>
<text x="794.00" y="75.00" font-size="29.1" font-weight="bold" textLength="207.0" lengthAdjust="spacingAndGlyphs"  >Breakfast Area</text>
<text x="813.00" y="114.00" font-size="29.1" font-weight="bold" textLength="166.5" lengthAdjust="spacingAndGlyphs"  >or Sunroom</text>
<text x="855.00" y="145.50" font-size="28.1" font-weight="bold" textLength="79.0" lengthAdjust="spacingAndGlyphs"  >12 x 9</text>
<text x="1220.00" y="95.00" font-size="39.5" font-weight="bold" textLength="213.0" lengthAdjust="spacingAndGlyphs"  >Covered Or</text>
<text x="1146.50" y="137.50" font-size="39.5" font-weight="bold" textLength="348.5" lengthAdjust="spacingAndGlyphs"  >Screened-In-Porch</text>
<text x="1285.00" y="178.00" font-size="33.4" font-weight="bold" textLength="93.0" lengthAdjust="spacingAndGlyphs"  >21 x 7</text>
<text x="82.00" y="326.00" font-size="39.5" font-weight="bold" textLength="203.4" lengthAdjust="spacingAndGlyphs"  >Bedroom 2</text>
<text x="129.00" y="365.00" font-size="29.1" font-weight="bold" textLength="95.0" lengthAdjust="spacingAndGlyphs"  >12 x 12</text>
<text x="124.50" y="400.00" font-size="23.8" font-weight="bold" textLength="110.5" lengthAdjust="spacingAndGlyphs"  >9' Clg. Ht.</text>
<text x="115.00" y="515.50" font-size="29.6" font-weight="bold" textLength="69.5" lengthAdjust="spacingAndGlyphs"  >Clos.</text>
<text x="260.00" y="624.00" font-size="33.3" font-weight="bold" textLength="60.0" lengthAdjust="spacingAndGlyphs"  >Hall</text>
<text x="135.00" y="663.00" font-size="33.3" font-weight="bold" textLength="74.0" lengthAdjust="spacingAndGlyphs"  >Bath</text>
<text x="430.40" y="483.70" font-size="39.9" font-weight="bold" textLength="222.1" lengthAdjust="spacingAndGlyphs"  >Great Room</text>
<text x="483.50" y="530.70" font-size="34.1" font-weight="bold" textLength="109.2" lengthAdjust="spacingAndGlyphs"  >17 x 23</text>
<text x="827.50" y="513.00" font-size="39.5" font-weight="bold" textLength="140.0" lengthAdjust="spacingAndGlyphs"  >Kitchen</text>
<text x="837.00" y="552.00" font-size="33.4" font-weight="bold" textLength="112.0" lengthAdjust="spacingAndGlyphs"  >12 x 15</text>
<text x="81.00" y="807.00" font-size="39.5" font-weight="bold" textLength="203.5" lengthAdjust="spacingAndGlyphs"  >Bedroom 3</text>
<text x="119.50" y="849.00" font-size="33.4" font-weight="bold" textLength="107.5" lengthAdjust="spacingAndGlyphs"  >12 x 11</text>
<text x="120.70" y="884.00" font-size="24" font-weight="bold" textLength="110.3" lengthAdjust="spacingAndGlyphs"  >9' Clg. Ht.</text>
<text x="378.80" y="749.00" font-size="33.3" font-weight="bold" textLength="21.3" lengthAdjust="spacingAndGlyphs"  >C</text>
<text x="516.80" y="826.20" font-size="39.9" font-weight="bold" textLength="102.1" lengthAdjust="spacingAndGlyphs"  >Foyer</text>
<text x="520.00" y="866.80" font-size="33.7" font-weight="bold" textLength="87.3" lengthAdjust="spacingAndGlyphs"  >14 x 7</text>
<text x="512.60" y="898.40" font-size="24" font-weight="bold" textLength="109.8" lengthAdjust="spacingAndGlyphs"  >9' Clg. Ht.</text>
<text x="437.50" y="1024.00" font-size="39.5" font-weight="bold" textLength="275.5" lengthAdjust="spacingAndGlyphs"  >Covered Porch</text>
<text x="522.00" y="1064.00" font-size="33.4" font-weight="bold" textLength="94.5" lengthAdjust="spacingAndGlyphs"  >41 x 6</text>
<text x="837.00" y="784.00" font-size="39.5" font-weight="bold" textLength="120.0" lengthAdjust="spacingAndGlyphs"  >Dining</text>
<text x="839.50" y="830.50" font-size="33.4" font-weight="bold" textLength="110.5" lengthAdjust="spacingAndGlyphs"  >12 x 13</text>
<text x="843.00" y="866.00" font-size="24" font-weight="bold" textLength="110.0" lengthAdjust="spacingAndGlyphs"  >9' Clg. Ht.</text>
<text x="1121.90" y="380.60" font-size="34.1" font-weight="bold" textLength="55.7" lengthAdjust="spacingAndGlyphs"  >Her</text>
<text x="1114.90" y="417.20" font-size="34.1" font-weight="bold" textLength="73.1" lengthAdjust="spacingAndGlyphs"  >Bath</text>
<text x="1082.00" y="268.20" font-size="23.3" font-weight="bold" textLength="77.2" lengthAdjust="spacingAndGlyphs"  >Jet Tub</text>
<text x="1318.50" y="402.00" font-size="39.5" font-weight="bold" textLength="125.5" lengthAdjust="spacingAndGlyphs"  >Master</text>
<text x="1295.00" y="446.50" font-size="39.5" font-weight="bold" textLength="168.5" lengthAdjust="spacingAndGlyphs"  >Bedroom</text>
<text x="1322.00" y="488.50" font-size="33.4" font-weight="bold" textLength="111.5" lengthAdjust="spacingAndGlyphs"  >14 x 18</text>
<text x="1326.50" y="524.00" font-size="24" font-weight="bold" textLength="110.5" lengthAdjust="spacingAndGlyphs"  >9' Clg. Ht.</text>
<text x="1093.90" y="614.30" font-size="33.7" font-weight="bold" textLength="55.1" lengthAdjust="spacingAndGlyphs"  >Her</text>
<text x="1081.50" y="653.50" font-size="33.7" font-weight="bold" textLength="81.3" lengthAdjust="spacingAndGlyphs"  >Clos.</text>
<text x="1080.80" y="688.30" font-size="33.7" font-weight="bold" textLength="73.3" lengthAdjust="spacingAndGlyphs"  >6 x 9</text>
<text x="1191.00" y="813.00" font-size="39.5" font-weight="bold" textLength="68.5" lengthAdjust="spacingAndGlyphs"  >Hall</text>
<text x="1133.00" y="888.70" font-size="34.3" font-weight="bold" textLength="132.7" lengthAdjust="spacingAndGlyphs"  >Laundry</text>
<text x="1287.00" y="886.80" font-size="28.6" font-weight="bold" textLength="80.7" lengthAdjust="spacingAndGlyphs"  >4 X 11</text>
<text x="1051.90" y="911.30" font-size="18.9" font-weight="bold" textLength="52.3" lengthAdjust="spacingAndGlyphs"  >HVAC</text>
<text x="1197.00" y="927.70" font-size="15.1" font-weight="bold" textLength="28.8" lengthAdjust="spacingAndGlyphs"  >Sink</text>
<text x="1585.80" y="264.90" font-size="22.5" font-weight="bold" textLength="58.6" lengthAdjust="spacingAndGlyphs"  >Shwr.</text>
<text x="1757.00" y="265.00" font-size="35.4" font-weight="bold" textLength="138.0" lengthAdjust="spacingAndGlyphs"  >Optional</text>
<text x="1757.00" y="308.00" font-size="35.4" font-weight="bold" textLength="134.0" lengthAdjust="spacingAndGlyphs"  >Storage/</text>
<text x="1743.70" y="350.60" font-size="35.4" font-weight="bold" textLength="181.3" lengthAdjust="spacingAndGlyphs"  >Lounge/ Or</text>
<text x="1782.00" y="391.50" font-size="35.4" font-weight="bold" textLength="96.0" lengthAdjust="spacingAndGlyphs"  >Office</text>
<text x="1776.50" y="434.00" font-size="33.4" font-weight="bold" textLength="110.5" lengthAdjust="spacingAndGlyphs"  >11 x 13</text>
<text x="1805.70" y="482.70" font-size="19.0" font-weight="bold" textLength="76.2" lengthAdjust="spacingAndGlyphs"  >Optional</text>
<text x="1805.70" y="508.40" font-size="19.0" font-weight="bold" textLength="44.0" lengthAdjust="spacingAndGlyphs"  >Door</text>
<text x="1808.40" y="567.70" font-size="19.0" font-weight="bold" textLength="76.1" lengthAdjust="spacingAndGlyphs"  >Optional</text>
<text x="1808.40" y="592.60" font-size="19.0" font-weight="bold" textLength="39.1" lengthAdjust="spacingAndGlyphs"  >Wall</text>
<text x="1574.00" y="362.80" font-size="29.4" font-weight="bold" textLength="42.5" lengthAdjust="spacingAndGlyphs"  >His</text>
<text x="1574.00" y="399.80" font-size="29.4" font-weight="bold" textLength="62.2" lengthAdjust="spacingAndGlyphs"  >Bath</text>
<text x="1598.00" y="623.40" font-size="34.3" font-weight="bold" textLength="50.0" lengthAdjust="spacingAndGlyphs"  >His</text>
<text x="1587.20" y="662.40" font-size="34.3" font-weight="bold" textLength="80.7" lengthAdjust="spacingAndGlyphs"  >Clos.</text>
<text x="1588.60" y="696.90" font-size="34.3" font-weight="bold" textLength="73.0" lengthAdjust="spacingAndGlyphs"  >6 x 8</text>
<text x="1764.00" y="643.00" font-size="39.5" font-weight="bold" textLength="145.0" lengthAdjust="spacingAndGlyphs"  >Storage</text>
<text x="1785.00" y="686.50" font-size="33.4" font-weight="bold" textLength="91.5" lengthAdjust="spacingAndGlyphs"  >11 x 8</text>
<text x="1448.60" y="1029.50" font-size="40.4" font-weight="bold" textLength="301.0" lengthAdjust="spacingAndGlyphs"  >Two Car Garage</text>
<text x="1536.20" y="1085.40" font-size="33.8" font-weight="bold" textLength="112.1" lengthAdjust="spacingAndGlyphs"  >24 x 24</text>
<text x="1290.20" y="914.60" font-size="21.5" font-weight="bold" textLength="21.8" lengthAdjust="spacingAndGlyphs"  >W</text>
<text x="1353.30" y="914.50" font-size="21.5" font-weight="bold" textLength="14.4" lengthAdjust="spacingAndGlyphs"  >D</text>
<text x="657.00" y="399.70" font-size="24.8" font-weight="normal" textLength="76.4" lengthAdjust="spacingAndGlyphs"  >VAULT</text>
<text x="354.20" y="607.70" font-size="25.2" font-weight="normal" textLength="76.8" lengthAdjust="spacingAndGlyphs"  >VAULT</text>
<text font-size="20.5" font-weight="bold" transform="translate(92 679.6) rotate(-90)" textLength="95" lengthAdjust="spacingAndGlyphs">Tub/Shwr</text>
<circle cx="84.7" cy="581.5" r="2" fill="#fff" stroke="#000" stroke-width="1.5"/>
<text font-size="30.5" font-weight="bold" transform="translate(355.4 901.3) rotate(-90)" textLength="71" lengthAdjust="spacingAndGlyphs">Clos.</text>
<text font-size="20.5" font-weight="bold" transform="translate(1687.5 280.8) rotate(-90)" textLength="41" lengthAdjust="spacingAndGlyphs">Seat</text>
</svg>
</body></html>
